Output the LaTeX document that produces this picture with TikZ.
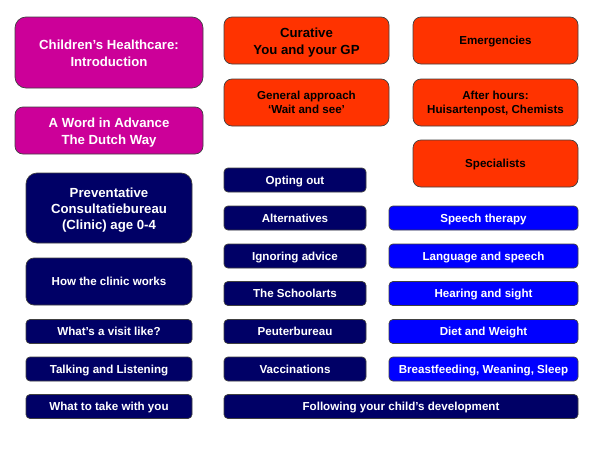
\documentclass[tikz,border=0pt]{standalone}
\usepackage{fontspec}
\setmainfont{Liberation Sans}
\definecolor{mag}{HTML}{CC0099}
\definecolor{org}{HTML}{FF3300}
\definecolor{nav}{HTML}{000066}
\definecolor{blu}{HTML}{0000FF}
\newcommand\strutB{\rule[-2.85pt]{0pt}{16.65pt}}
\newcommand\strutS{\rule[-2.5pt]{0pt}{13.3pt}}
\tikzset{
  bx/.style={draw=black!75, line width=0.7pt, align=center, inner sep=0pt},
  big/.style={font=\bfseries\fontsize{13.2}{15.9}\selectfont},
  sml/.style={font=\bfseries\fontsize{11.6}{13.7}\selectfont},
  magbox/.style={bx, big, fill=mag, text=white},
  orgbox/.style={bx, fill=org, text=black},
  navbox/.style={bx, fill=nav, text=white},
  blubox/.style={bx, sml, fill=blu, text=white, minimum width=189, minimum height=24, rounded corners=4},
  midbox/.style={navbox, sml, minimum width=142, minimum height=24, rounded corners=4},
  leftbox/.style={navbox, sml, minimum width=166, minimum height=24, rounded corners=4},
}
\begin{document}
\begin{tikzpicture}[x=1pt,y=-1pt]
\useasboundingbox[fill=white] (0,0) rectangle (600,450);
% magenta
\node[magbox, minimum width=188, minimum height=71, rounded corners=11] (ch) at (109,52.5) {\strutB Children’s Healthcare:\\Introduction\strutB};
\node[magbox, minimum width=188, minimum height=47, rounded corners=8] (word) at (109,130.5) {\strutB A Word in Advance\\The Dutch Way\strutB};
% orange
\node[orgbox, big, minimum width=165, minimum height=47, rounded corners=8] (cur) at (306.5,40.5) {\strutB Curative\\You and your GP\strutB};
\node[orgbox, sml, minimum width=165, minimum height=47, rounded corners=8] (gen) at (306.5,102.5) {\strutS General approach\\‘Wait and see’\strutS};
\node[orgbox, sml, minimum width=165, minimum height=47, rounded corners=8] (emer) at (495.5,40.5) {\strutS Emergencies};
\node[orgbox, sml, minimum width=165, minimum height=47, rounded corners=8] (after) at (495.5,102.5) {\strutS After hours:\\Huisartenpost, Chemists\strutS};
\node[orgbox, sml, minimum width=165, minimum height=47, rounded corners=8] (spec) at (495.5,163.5) {\strutS Specialists};
% left column
\node[navbox, big, minimum width=166, minimum height=70, rounded corners=11] (prev) at (109,208) {\strutB Preventative\\Consultatiebureau\\(Clinic) age 0-4\strutB};
\node[navbox, sml, minimum width=166, minimum height=47, rounded corners=8] (how) at (109,281.5) {\strutS How the clinic works};
\node[leftbox] (visit) at (109,331.5) {\strutS What’s a visit like?};
\node[leftbox] (talk) at (109,369) {\strutS Talking and Listening};
\node[leftbox] (take) at (109,406.5) {\strutS What to take with you};
% middle column
\node[midbox] (opt) at (295,180) {\strutS Opting out};
\node[midbox] (alt) at (295,218) {\strutS Alternatives};
\node[midbox] (ign) at (295,256) {\strutS Ignoring advice};
\node[midbox] (sch) at (295,293.5) {\strutS The Schoolarts};
\node[midbox] (peu) at (295,331.5) {\strutS Peuterbureau};
\node[midbox] (vac) at (295,369) {\strutS Vaccinations};
\node[navbox, sml, minimum width=354, minimum height=24, rounded corners=4] (follow) at (401,406.5) {\strutS Following your child’s development};
% blue column
\node[blubox] (speech) at (483.5,218) {\strutS Speech therapy};
\node[blubox] (lang) at (483.5,256) {\strutS Language and speech};
\node[blubox] (hear) at (483.5,293.5) {\strutS Hearing and sight};
\node[blubox] (diet) at (483.5,331.5) {\strutS Diet and Weight};
\node[blubox] (breast) at (483.5,369) {\strutS Breastfeeding, Weaning, Sleep};
\end{tikzpicture}
\end{document}
